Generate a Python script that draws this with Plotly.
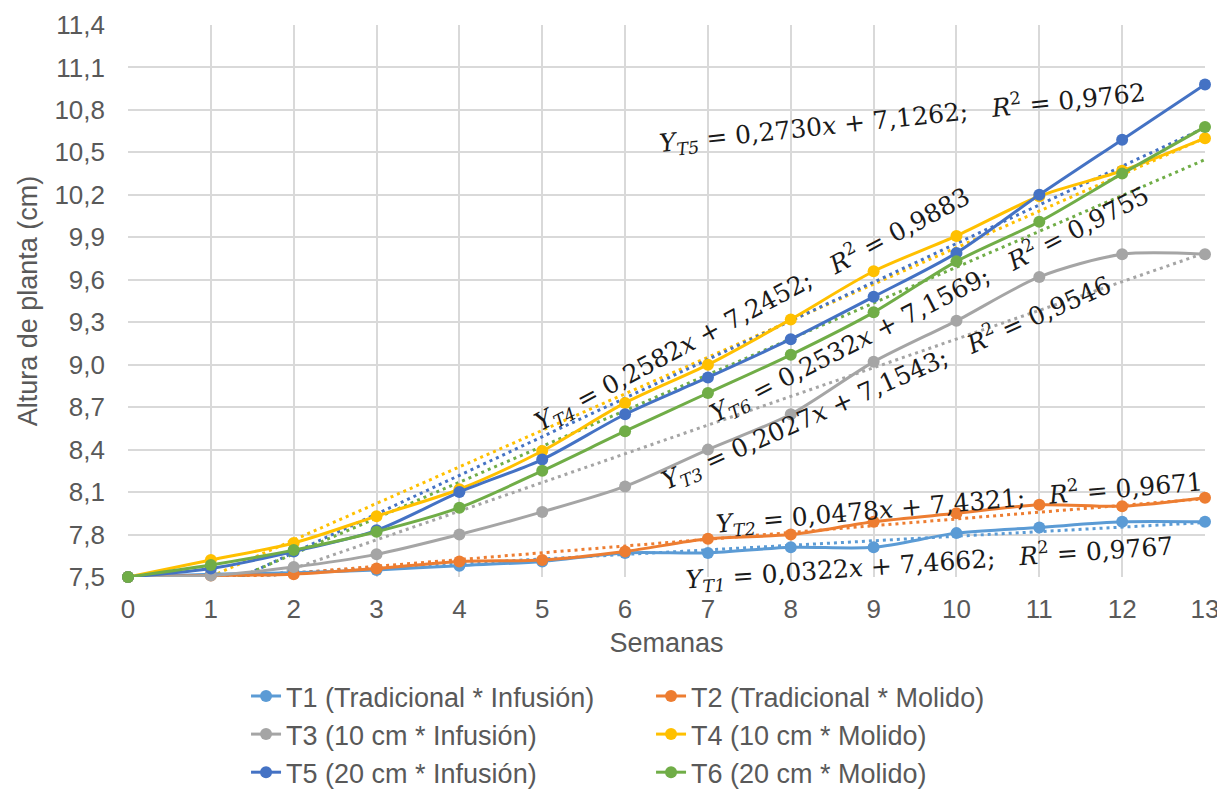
import plotly.graph_objects as go

semanas = list(range(14))
x_ticks = list(range(14))
y_ticks = [7.5, 7.8, 8.1, 8.4, 8.7, 9.0, 9.3, 9.6, 9.9, 10.2, 10.5, 10.8, 11.1, 11.4]

nombres = ["T1 (Tradicional * Infusión)", "T2 (Tradicional * Molido)",
           "T3 (10 cm * Infusión)", "T4 (10 cm * Molido)",
           "T5 (20 cm * Infusión)", "T6 (20 cm * Molido)"]
etiquetas = ["T1", "T2", "T3", "T4", "T5", "T6"]

T1 = [7.50, 7.52, 7.53, 7.55, 7.58, 7.61, 7.67, 7.67, 7.71, 7.71, 7.81, 7.85, 7.89, 7.89]
T2 = [7.50, 7.51, 7.52, 7.56, 7.61, 7.62, 7.68, 7.77, 7.80, 7.89, 7.95, 8.01, 8.00, 8.06]
T3 = [7.50, 7.51, 7.57, 7.66, 7.80, 7.96, 8.14, 8.40, 8.65, 9.02, 9.31, 9.62, 9.78, 9.78]
T4 = [7.50, 7.62, 7.74, 7.93, 8.12, 8.39, 8.73, 9.00, 9.32, 9.66, 9.91, 10.19, 10.37, 10.60]
T5 = [7.50, 7.56, 7.68, 7.83, 8.10, 8.33, 8.65, 8.91, 9.18, 9.48, 9.79, 10.20, 10.59, 10.98]
T6 = [7.50, 7.585, 7.69, 7.82, 7.99, 8.25, 8.53, 8.80, 9.07, 9.37, 9.73, 10.01, 10.35, 10.68]
series = [T1, T2, T3, T4, T5, T6]

# linear trend equations (from the chart labels)
pendientes = [0.0322, 0.0478, 0.2027, 0.2582, 0.2730, 0.2532]
interceptos = [7.4662, 7.4321, 7.1543, 7.2452, 7.1262, 7.1569]
r2 = [0.9767, 0.9671, 0.9546, 0.9883, 0.9762, 0.9755]

colores = ["#5B9BD5", "#ED7D31", "#A5A5A5", "#FFC000", "#4472C4", "#70AD47"]

fig = go.Figure()

# trend lines (dotted)
for i in range(6):
    ty = [pendientes[i] * x + interceptos[i] for x in semanas]
    fig.add_trace(go.Scatter(
        x=semanas, y=ty, mode="lines", showlegend=False, hoverinfo="skip",
        line=dict(color=colores[i], width=3, dash="3px,4px")))

# data series
for i in range(6):
    fig.add_trace(go.Scatter(
        x=semanas, y=series[i], mode="lines+markers", name=nombres[i],
        line=dict(color=colores[i], width=3, shape="spline", smoothing=0.8),
        marker=dict(color=colores[i], size=12, symbol="circle"),
        cliponaxis=False))


def fmt(v, d):
    return f"{v:.{d}f}".replace(".", ",")


def eq_text(i):
    sp = "\u00a0"
    return (f"<i>Y</i><sub><i>{etiquetas[i]}</i></sub>{sp}={sp}{fmt(pendientes[i], 4)}<i>x</i>{sp}+{sp}"
            f"{fmt(interceptos[i], 4)};{sp}{sp}{sp}<i>R</i><sup>2</sup>{sp}={sp}{fmt(r2[i], 4)}")

# label placement (x, y in data units) and rotation
pos_x = [9.67, 10.04, 9.15, 7.54, 9.35, 9.68]
pos_y = [7.60, 8.02, 8.87, 9.39, 10.74, 9.43]
angulos = [-4, -5, -24, -28, -6, -27]

for i in range(6):
    fig.add_annotation(x=pos_x[i], y=pos_y[i], xref="x", yref="y", text=eq_text(i),
                       showarrow=False, textangle=angulos[i],
                       font=dict(family="DejaVu Serif", size=25, color="#1a1a1a"))

tick_font = dict(family="Liberation Sans, Arial", size=26, color="#595959")
text_font = dict(family="Liberation Sans, Arial", size=27, color="#595959")

fig.update_layout(
    width=1217, height=782,
    margin=dict(l=120, r=20, t=17, b=213, autoexpand=False),
    paper_bgcolor="white", plot_bgcolor="white",
    separators=", ",
    font=text_font,
    xaxis=dict(range=[0, 13], tickvals=x_ticks, showgrid=True, gridcolor="#D9D9D9", gridwidth=2,
               zeroline=False, showline=False, ticks="", tickfont=tick_font,
               ticklabelstandoff=14, automargin=False,
               title=dict(text="Semanas", font=text_font, standoff=10)),
    yaxis=dict(range=[7.5, 11.4], tickvals=y_ticks, tickformat=".1f", showgrid=True,
               gridcolor="#D9D9D9", gridwidth=2, zeroline=False, showline=False, ticks="",
               tickfont=tick_font, ticklabelstandoff=22, automargin=False,
               title=dict(text="Altura de planta (cm)", font=text_font, standoff=8)),
    legend=dict(orientation="h", x=0.1096, y=-0.172, xanchor="left", yanchor="top",
                entrywidth=360, font=text_font, bgcolor="rgba(0,0,0,0)"),
)

fig.write_html("out.html")
